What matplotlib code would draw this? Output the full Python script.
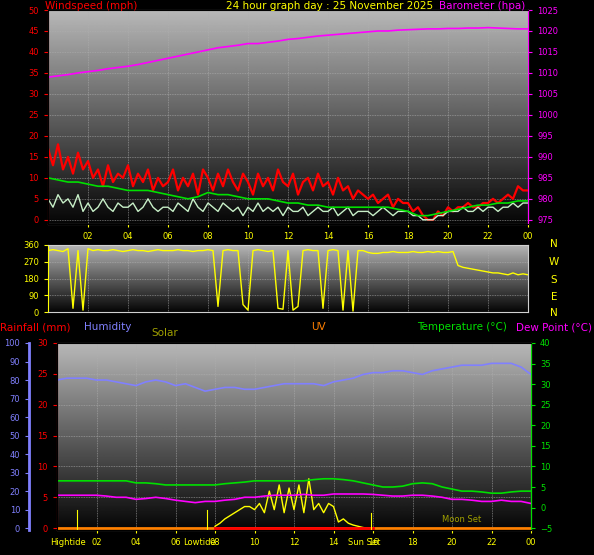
import numpy as np
import matplotlib
matplotlib.use('Agg')
import matplotlib.pyplot as plt

# ---- data ----
t15 = np.arange(97) * 0.25
t30 = np.arange(49) * 0.5

gust = [17,13,18,12,15,11,16,12, 14,10,12,8,13,9,11,10, 13,8,11,9,12,7,10,8,
        9,12,7,10,8,11,6,12, 10,7,11,8,12,9,7,11, 9,6,11,8,10,7,12,9,
        8,11,6,9,10,7,11,8, 9,6,10,7,8,5,7,6, 5,6,4,5,6,3,5,4,
        4,2,3,1,0,0,2,1, 3,2,3,3,4,3,3,4, 4,5,4,5,6,5,8,7, 7]
lull = [5,3,6,4,5,3,6,2, 4,2,3,5,3,2,4,3, 3,4,2,3,5,3,2,3, 3,2,4,3,2,5,3,2,
        4,3,2,4,3,2,3,1, 3,2,4,2,3,2,3,1, 3,2,2,3,1,2,3,2, 2,3,1,2,3,1,2,2,
        2,1,2,3,2,1,2,2, 2,1,1,0,0,0,1,1, 2,2,2,3,2,2,3,2, 3,3,2,3,3,4,3,4, 4]
avg = [10,9.5,9,9,8.5,8,8,7.5, 7,7,7,6.5,6,5.5,5,5.5, 6.5,6,6,5.5,5,5,5,4.5,
       4,4,3.5,3.5,3,3,3,3, 3,3,3,2.5,2,1,1,1.5, 2,2.5,3,3.5,3.5,4,4,4.5, 4.5]
baro = [1009,1009.3,1009.6,1010,1010.3,1010.6,1011,1011.3, 1011.6,1012,1012.5,1013,1013.5,1014,1014.5,1015,
        1015.5,1016,1016.3,1016.6,1017,1017,1017.3,1017.6, 1018,1018.2,1018.5,1018.8,1019,1019.2,1019.4,1019.6,
        1019.8,1020,1020,1020.2,1020.3,1020.4,1020.5,1020.5, 1020.6,1020.6,1020.7,1020.7,1020.8,1020.7,1020.6,1020.5, 1020.5]
wdir = [330,335,330,325,340,20,330,10, 340,330,335,330,330,335,330,325,
        330,335,330,330,325,330,335,330, 330,330,335,330,330,325,330,330,
        335,330,30,330,335,330,330,40, 10,330,335,330,325,330,20,15,
        330,10,30,330,335,330,330,20, 330,335,330,10,330,5,330,330,
        320,315,315,320,320,325,320,320, 320,325,320,320,325,320,325,320,
        320,325,250,240,235,230,225,220, 215,210,210,205,200,210,200,205, 200]
humidity = [80,81,81,81,80,80,79,78, 77,79,80,79,77,78,76,74, 75,76,76,75,75,76,77,78,
            78,78,78,77,79,80,81,83, 84,84,85,85,84,83,85,86, 87,88,88,88,89,89,89,87, 83]
temp = [6.5]*8 + [6,6,5.8,5.5,5.5,5.5,5.5,5.5, 5.5,5.8,6,6.2,6.5,6.5,6.5,6.5,
        6.5,6.5,6.8,7,7,6.8,6.5,6, 5.5,5,5,5.2,5.8,6,5.8,5, 4.5,4,4,3.8,3.5,3.5,3.8,4, 4]
dew = [3,3,3,3,3,2.8,2.5,2.5, 2,2.2,2.5,2.2,1.8,1.5,1.2,1.5, 1.5,1.8,2,2.5,2.5,2.8,3,3,
       3,3.2,3,3,3.3,3.3,3.3,3.3, 3.2,3,2.8,2.8,3,3,2.8,2.5, 2,2,1.8,1.5,1.5,1.8,1.5,1.5, 1]
t_solar = 8 + np.arange(33) * 0.25
solar = [0.3,0.8,1.5,2,2.5,3,3.5,3.5, 3,4,2.5,6,3,7,2.5,6.5,
         3,7,2.5,8,3,4,2.5,4, 3.5,1,1.5,0.8,0.5,0.3,0.1,0, 0]
events = {'Hightide': 1.0, 'Lowtide': 7.6, 'Sun Set': 15.9}
hour_ticks = [2,4,6,8,10,12,14,16,18,20,22,24]
hour_labels = ['02','04','06','08','10','12','14','16','18','20','22','00']

RED, YEL, MAG, GRN = '#ff0000', '#ffff00', '#ff00ff', '#00e000'
BLUE, SOL, ORG = '#8080ff', '#a0a000', '#ff8000'
W, H = 594, 555
fs = 6

fig = plt.figure(figsize=(W/100, H/100), dpi=100, facecolor='black')

def box(l, t, r, b):
    return [l/W, 1-b/H, (r-l)/W, (b-t)/H]

def style(ax, col):
    ax.set_facecolor('black')
    grad = np.linspace(0.72, 0.02, 256).reshape(-1, 1)
    ax.imshow(grad, cmap='gray', vmin=0, vmax=1, aspect='auto', extent=[0,1,0,1],
              transform=ax.transAxes, zorder=0)
    ax.grid(True, color='#b0b0b0', lw=0.6, ls=(0, (1, 1)), alpha=0.7)
    for s in ['top', 'right', 'bottom']:
        ax.spines[s].set_color('#d0d0d0')
    ax.spines['left'].set_color(col)
    ax.tick_params(axis='y', colors=col, labelsize=fs, length=3)
    ax.tick_params(axis='x', colors=YEL, labelsize=fs, length=2)
    ax.set_xlim(0, 24)
    ax.set_xticks(hour_ticks)
    ax.set_xticklabels(hour_labels)

# ---- top: wind ----
ax1 = fig.add_axes(box(48, 10, 528, 224))
style(ax1, RED)
ax1.set_ylim(-1, 50)
ax1.set_yticks(range(0, 51, 5))
ax1.plot(t15, gust, color=RED, lw=1.6, zorder=3)
ax1.plot(t15, lull, color='#c8f0c8', lw=1.0, zorder=4)
ax1.plot(t30, avg, color=GRN, lw=1.2, zorder=5)
axb = ax1.twinx()
axb.set_ylim(974, 1025)
axb.set_yticks(range(975, 1026, 5))
axb.tick_params(axis='y', colors=MAG, labelsize=fs, length=3)
axb.spines['right'].set_color(MAG)
axb.plot(t30, baro, color=MAG, lw=1.2)
fig.text(45/W, 1-6/H, 'Windspeed (mph)', color=RED, fontsize=7.5, va='center')
fig.text(330/W, 1-6/H, '24 hour graph day : 25 November 2025', color=YEL, fontsize=7.5, va='center', ha='center')
fig.text(525/W, 1-6/H, 'Barometer (hpa)', color=MAG, fontsize=7.5, va='center', ha='right')

# ---- middle: direction ----
ax2 = fig.add_axes(box(48, 245, 528, 312))
style(ax2, YEL)
ax2.set_ylim(0, 360)
ax2.set_yticks([0, 90, 180, 270, 360])
ax2.set_xticklabels([])
ax2.tick_params(axis='x', length=0)
ax2.plot(t15, wdir, color=YEL, lw=1.0, zorder=3)
for lab, y in zip('NWSEN', [244, 262, 280, 297, 313]):
    fig.text(554/W, 1-y/H, lab, color=YEL, fontsize=7.5, ha='center', va='center')

# ---- bottom: temperature etc ----
ax3 = fig.add_axes(box(57, 343, 531, 530))
style(ax3, RED)
ax3.set_ylim(-0.3, 30)
ax3.set_yticks(range(0, 31, 5))
axh = ax3.twinx()
axh.spines['left'].set_position(('outward', 20))
axh.spines['left'].set_visible(True)
axh.spines['left'].set_color(BLUE)
axh.spines['left'].set_linewidth(2)
axh.spines['right'].set_visible(False)
axh.spines['top'].set_visible(False)
axh.spines['bottom'].set_visible(False)
axh.yaxis.set_ticks_position('left')
axh.yaxis.set_label_position('left')
axh.set_ylim(-1, 100)
axh.set_yticks(range(0, 101, 10))
axh.tick_params(axis='y', colors=BLUE, labelsize=fs, length=3)
axh.plot(t30, humidity, color=BLUE, lw=1.2)
axt = ax3.twinx()
axt.set_ylim(-5.45, 40)
axt.set_yticks(range(-5, 41, 5))
axt.tick_params(axis='y', colors=GRN, labelsize=fs, length=3)
axt.spines['right'].set_color(GRN)
axt.plot(t30, temp, color=GRN, lw=1.2)
axt.plot(t30, dew, color=MAG, lw=1.2)
ax3.plot(t_solar, solar, color=YEL, lw=1.0, zorder=4)
ax3.plot([0, 24], [0, 0], color=ORG, lw=2, zorder=5)
ax3.plot([8, 16], [0, 0], color=RED, lw=2, zorder=6)
for name, x in events.items():
    ax3.plot([x, x], [-0.3, 3 if name != 'Sun Set' else 2.5], color=YEL, lw=0.8, zorder=6)
    ax3.text(x + 0.45, -1.6, name, color=YEL, fontsize=fs, ha='right', va='top')
ax3.text(20.5, 0.6, 'Moon Set', color=SOL, fontsize=fs, ha='center', va='bottom', zorder=6)
for txt, x, y, c, ha in [('Rainfall (mm)', 0, 327, RED, 'left'), ('Humidity', 84, 327, BLUE, 'left'),
                         ('Solar', 151, 333, SOL, 'left'), ('UV', 318, 327, ORG, 'center'),
                         ('Temperature (°C)', 462, 327, GRN, 'center'), ('Dew Point (°C)', 592, 327, MAG, 'right')]:
    fig.text(x/W, 1-y/H, txt, color=c, fontsize=7.5, ha=ha, va='center')

fig.savefig('out.png', dpi=100, facecolor='black')
